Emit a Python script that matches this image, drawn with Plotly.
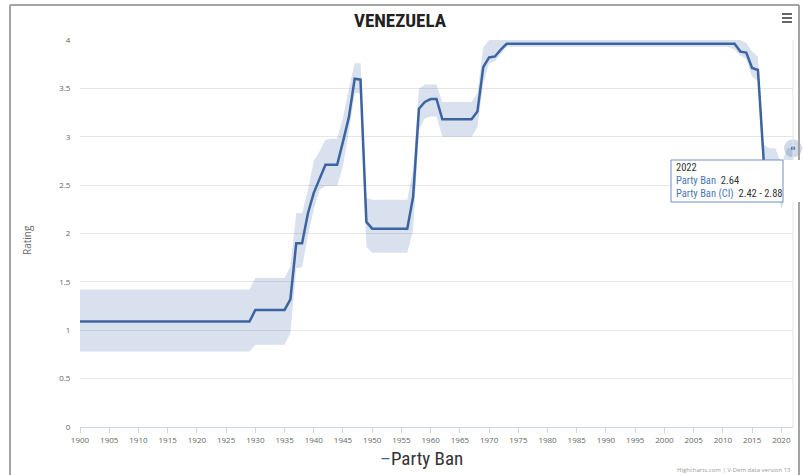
import plotly.graph_objects as go

# ---------------- data ----------------
years = list(range(1900, 2023))

party_ban = [
    # 1900-1929
    1.09, 1.09, 1.09, 1.09, 1.09, 1.09, 1.09, 1.09, 1.09, 1.09,
    1.09, 1.09, 1.09, 1.09, 1.09, 1.09, 1.09, 1.09, 1.09, 1.09,
    1.09, 1.09, 1.09, 1.09, 1.09, 1.09, 1.09, 1.09, 1.09, 1.09,
    # 1930-1939
    1.21, 1.21, 1.21, 1.21, 1.21, 1.21, 1.32, 1.90, 1.90, 2.21,
    # 1940-1949
    2.42, 2.57, 2.71, 2.71, 2.71, 2.95, 3.20, 3.60, 3.59, 2.12,
    # 1950-1959
    2.05, 2.05, 2.05, 2.05, 2.05, 2.05, 2.05, 2.38, 3.29, 3.36,
    # 1960-1969
    3.39, 3.39, 3.18, 3.18, 3.18, 3.18, 3.18, 3.18, 3.26, 3.72,
    # 1970-1979
    3.82, 3.83, 3.90, 3.96, 3.96, 3.96, 3.96, 3.96, 3.96, 3.96,
    # 1980-1989
    3.96, 3.96, 3.96, 3.96, 3.96, 3.96, 3.96, 3.96, 3.96, 3.96,
    # 1990-1999
    3.96, 3.96, 3.96, 3.96, 3.96, 3.96, 3.96, 3.96, 3.96, 3.96,
    # 2000-2009
    3.96, 3.96, 3.96, 3.96, 3.96, 3.96, 3.96, 3.96, 3.96, 3.96,
    # 2010-2019
    3.96, 3.96, 3.96, 3.88, 3.87, 3.71, 3.69, 2.74, 2.70, 2.70,
    # 2020-2022
    2.55, 2.64, 2.64,
]

ci_high = [
    # 1900-1929
    1.42, 1.42, 1.42, 1.42, 1.42, 1.42, 1.42, 1.42, 1.42, 1.42,
    1.42, 1.42, 1.42, 1.42, 1.42, 1.42, 1.42, 1.42, 1.42, 1.42,
    1.42, 1.42, 1.42, 1.42, 1.42, 1.42, 1.42, 1.42, 1.42, 1.42,
    # 1930-1939
    1.54, 1.54, 1.54, 1.54, 1.54, 1.54, 1.66, 2.21, 2.21, 2.45,
    # 1940-1949
    2.75, 2.85, 2.97, 2.98, 2.98, 3.20, 3.50, 3.76, 3.76, 2.37,
    # 1950-1959
    2.35, 2.35, 2.35, 2.35, 2.35, 2.35, 2.35, 2.66, 3.50, 3.54,
    # 1960-1969
    3.54, 3.54, 3.36, 3.36, 3.36, 3.36, 3.36, 3.36, 3.45, 3.92,
    # 1970-1979
    4.00, 4.00, 4.00, 4.00, 4.00, 4.00, 4.00, 4.00, 4.00, 4.00,
    # 1980-1989
    4.00, 4.00, 4.00, 4.00, 4.00, 4.00, 4.00, 4.00, 4.00, 4.00,
    # 1990-1999
    4.00, 4.00, 4.00, 4.00, 4.00, 4.00, 4.00, 4.00, 4.00, 4.00,
    # 2000-2009
    4.00, 4.00, 4.00, 4.00, 4.00, 4.00, 4.00, 4.00, 4.00, 4.00,
    # 2010-2019
    4.00, 4.00, 4.00, 4.00, 3.97, 3.88, 3.83, 2.92, 2.88, 2.88,
    # 2020-2022
    2.72, 2.88, 2.88,
]

ci_low = [
    # 1900-1929
    0.78, 0.78, 0.78, 0.78, 0.78, 0.78, 0.78, 0.78, 0.78, 0.78,
    0.78, 0.78, 0.78, 0.78, 0.78, 0.78, 0.78, 0.78, 0.78, 0.78,
    0.78, 0.78, 0.78, 0.78, 0.78, 0.78, 0.78, 0.78, 0.78, 0.78,
    # 1930-1939
    0.85, 0.85, 0.85, 0.85, 0.85, 0.85, 0.97, 1.64, 1.65, 1.98,
    # 1940-1949
    2.25, 2.45, 2.49, 2.49, 2.49, 2.70, 3.05, 3.45, 3.45, 1.86,
    # 1950-1959
    1.80, 1.80, 1.80, 1.80, 1.80, 1.80, 1.80, 2.04, 3.07, 3.19,
    # 1960-1969
    3.21, 3.21, 3.00, 3.00, 3.00, 3.00, 3.00, 3.00, 3.10, 3.55,
    # 1970-1979
    3.76, 3.78, 3.86, 3.93, 3.93, 3.93, 3.93, 3.93, 3.93, 3.93,
    # 1980-1989
    3.93, 3.93, 3.93, 3.93, 3.93, 3.93, 3.93, 3.93, 3.93, 3.93,
    # 1990-1999
    3.93, 3.93, 3.93, 3.93, 3.93, 3.93, 3.93, 3.93, 3.93, 3.93,
    # 2000-2009
    3.93, 3.93, 3.93, 3.93, 3.93, 3.93, 3.93, 3.93, 3.93, 3.93,
    # 2010-2019
    3.93, 3.93, 3.90, 3.84, 3.80, 3.62, 3.58, 2.55, 2.50, 2.52,
    # 2020-2022
    2.25, 2.42, 2.42,
]

x_ticks = list(range(1900, 2021, 5))
y_ticks = [0, 0.5, 1, 1.5, 2, 2.5, 3, 3.5, 4]
y_tick_labels = ["0", "0.5", "1", "1.5", "2", "2.5", "3", "3.5", "4"]

title_text = "VENEZUELA"
series_name = "Party Ban"
ci_name = "Party Ban (CI)"
y_title = "Rating"
credits_text = "Highcharts.com | V-Dem data version 13"
hover_year = 2022

# ---------------- styling / layout ----------------
W, H = 803, 475
L, R, T, B = 80, 10, 40, 48          # plot area: x 80..793, y 40..427
PW, PH = W - L - R, H - T - B

def px(x):   # pixel x -> paper x
    return (x - L) / PW

def py(y):   # pixel y -> paper y
    return (H - B - y) / PH

LINE = "#3c64a0"
BAND = "rgba(62,103,166,0.2)"
NARROW = "Liberation Sans Narrow, Roboto Condensed, Arial Narrow, DejaVu Sans Condensed, sans-serif"
LABEL_FONT = "Open Sans, DejaVu Sans, sans-serif"

idx = years.index(hover_year)

fig = go.Figure()
fig.add_trace(go.Scatter(x=years, y=ci_low, mode="lines", line=dict(width=0),
                         hoverinfo="skip", showlegend=False))
fig.add_trace(go.Scatter(x=years, y=ci_high, mode="lines", line=dict(width=0),
                         fill="tonexty", fillcolor=BAND, name=ci_name,
                         showlegend=False))
fig.add_trace(go.Scatter(x=years, y=party_ban, mode="lines",
                         line=dict(color=LINE, width=2.5), name=series_name,
                         showlegend=False))
# hover halo on CI high point of the last year
fig.add_trace(go.Scatter(x=[years[idx]], y=[ci_high[idx]], mode="markers",
                         marker=dict(size=18, color="rgba(62,103,166,0.25)"),
                         cliponaxis=False, showlegend=False, hoverinfo="skip"))
fig.add_trace(go.Scatter(x=[years[idx]], y=[ci_high[idx]], mode="markers",
                         marker=dict(size=4, color=LINE),
                         cliponaxis=False, showlegend=False, hoverinfo="skip"))

shapes = []
# outer frame (screenshot border)
FR = "#a3a3a3"
shapes.append(dict(type="line", xref="paper", yref="paper", x0=px(10), x1=px(10),
                   y0=py(5), y1=py(476), line=dict(color=FR, width=2)))
shapes.append(dict(type="line", xref="paper", yref="paper", x0=px(10), x1=px(799),
                   y0=py(5), y1=py(5), line=dict(color=FR, width=2)))
shapes.append(dict(type="line", xref="paper", yref="paper", x0=px(799), x1=px(799),
                   y0=py(5), y1=py(476), line=dict(color=FR, width=2)))
# right plot border
shapes.append(dict(type="line", xref="paper", yref="paper", x0=1, x1=1,
                   y0=0, y1=1, line=dict(color="#e6e6e6", width=1)))
# hamburger icon
for yy in (14, 18, 22):
    shapes.append(dict(type="line", xref="paper", yref="paper", x0=px(782), x1=px(792),
                       y0=py(yy), y1=py(yy), line=dict(color="#666666", width=2)))
# tooltip box
shapes.append(dict(type="rect", xref="paper", yref="paper", x0=px(671), x1=px(805),
                   y0=py(202), y1=py(160), fillcolor="white", line=dict(width=0),
                   layer="above"))
shapes.append(dict(type="rect", xref="paper", yref="paper", x0=px(671), x1=px(783),
                   y0=py(202), y1=py(160), fillcolor="rgba(0,0,0,0)",
                   line=dict(color="#6f8fbf", width=1), layer="above"))

annotations = []
# y-axis title
annotations.append(dict(text=y_title, xref="paper", yref="paper", x=px(27), y=py(240),
                        xanchor="center", yanchor="middle",
                        showarrow=False, textangle=-90,
                        font=dict(family=LABEL_FONT, size=10, color="#666666")))
# legend (drawn as text)
annotations.append(dict(text=f"<span style='color:{LINE}'>–</span>{series_name}",
                        xref="paper", yref="paper", x=px(378), y=py(458),
                        xanchor="left", yanchor="middle", showarrow=False,
                        font=dict(family=NARROW, size=19, color="#333333")))
# credits
annotations.append(dict(text=credits_text, xref="paper", yref="paper", x=px(793), y=py(470),
                        xanchor="right", yanchor="middle", showarrow=False,
                        font=dict(family=LABEL_FONT, size=6, color="#999999")))
# tooltip text
TT = "#4a76b4"
tip_lines = [
    (f"{hover_year}", 167),
    (f"<span style='color:{TT}'>{series_name}</span>\u00a0 {party_ban[idx]:.2f}", 180.5),
    (f"<span style='color:{TT}'>{ci_name}</span>\u00a0 {ci_low[idx]:.2f} - {ci_high[idx]:.2f}", 193.5),
]
for txt, yy in tip_lines:
    annotations.append(dict(text=txt, xref="paper", yref="paper", x=px(674), y=py(yy),
                            xanchor="left", yanchor="middle", showarrow=False,
                            font=dict(family=NARROW, size=10.5, color="#333333")))

fig.update_layout(
    width=W, height=H,
    margin=dict(l=L, r=R, t=T, b=B),
    paper_bgcolor="white", plot_bgcolor="white",
    title=dict(text=f"<b>{title_text}</b>", x=400 / W, xanchor="center",
               y=1 - 20 / H, yanchor="middle",
               font=dict(family=NARROW, size=19, color="#222222")),
    showlegend=False,
    shapes=shapes,
    annotations=annotations,
    xaxis=dict(range=[1900, 2022], tickmode="array", tickvals=x_ticks,
               ticktext=[str(t) for t in x_ticks],
               showgrid=False, zeroline=False,
               showline=True, linecolor="#ccd6eb", linewidth=1,
               ticks="outside", ticklen=5, tickcolor="#ccd6eb",
               tickfont=dict(family=LABEL_FONT, size=8, color="#666666")),
    yaxis=dict(range=[0, 4], tickmode="array", tickvals=y_ticks, ticktext=y_tick_labels,
               showgrid=True, gridcolor="#e6e6e6", gridwidth=1, zeroline=False,
               showline=False, ticks="outside", ticklen=7, tickcolor="rgba(0,0,0,0)",
               tickfont=dict(family=LABEL_FONT, size=8, color="#666666")),
)

fig.write_html("out.html", config={"displayModeBar": False},
               post_script="document.body.style.margin='0';document.body.style.overflow='hidden';")
